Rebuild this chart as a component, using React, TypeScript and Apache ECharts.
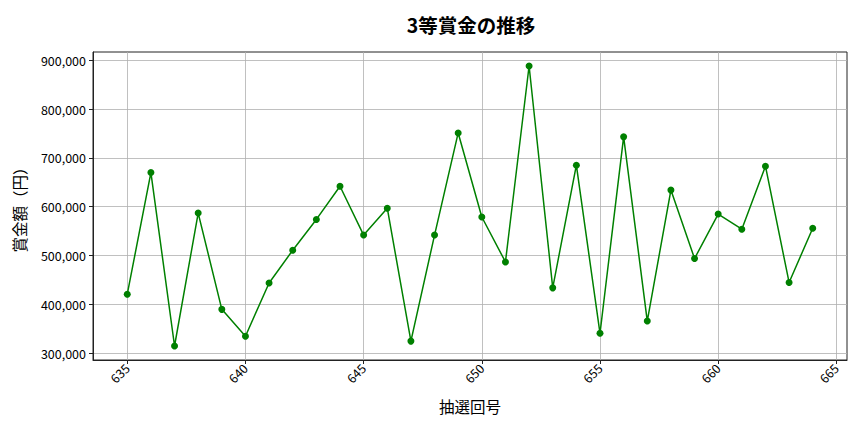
import { useEffect, useRef } from "react";
import * as echarts from "echarts";

const draws = [
  635, 636, 637, 638, 639, 640, 641, 642, 643, 644, 645, 646, 647, 648, 649,
  650, 651, 652, 653, 654, 655, 656, 657, 658, 659, 660, 661, 662, 663, 664,
];
const prizes = [
  421000, 670000, 315000, 587000, 390000, 335000, 444000, 511000, 574000,
  642000, 542000, 597000, 325000, 542000, 751000, 579000, 487000, 888000,
  434000, 685000, 341000, 743000, 366000, 634000, 494000, 585000, 554000,
  683000, 445000, 556000,
];
const xTicks = [635, 640, 645, 650, 655, 660, 665];
const yTicks = [300000, 400000, 500000, 600000, 700000, 800000, 900000];

const FONT = "'Noto Sans CJK JP', 'Noto Sans', sans-serif";

// matplotlib-style 5% padding around the data
function padded(values: number[]) {
  const lo = Math.min(...values);
  const hi = Math.max(...values);
  const pad = (hi - lo) * 0.05;
  return [lo - pad, hi + pad];
}

export default function App() {
  const ref = useRef<HTMLDivElement>(null);

  useEffect(() => {
    if (!ref.current) return;
    const chart = echarts.init(ref.current, undefined, { renderer: "svg" });
    const [xMin, xMax] = padded(draws);
    const [yMin, yMax] = padded(prizes);

    chart.setOption({
      animation: false,
      backgroundColor: "#ffffff",
      title: {
        text: "3等賞金の推移",
        left: 466,
        top: 10,
        textAlign: "center",
        textStyle: { fontFamily: FONT, fontSize: 19.5, fontWeight: "bold", color: "#000" },
      },
      grid: {
        left: 93,
        right: 17,
        top: 52,
        bottom: 72,
        show: true,
        borderColor: "#222",
        borderWidth: 1,
        backgroundColor: "transparent",
      },
      xAxis: {
        type: "value",
        min: xMin,
        max: xMax,
        name: "抽選回号",
        nameLocation: "middle",
        nameGap: 38,
        nameTextStyle: { fontFamily: FONT, fontSize: 15.5, color: "#000" },
        axisLine: { show: true, onZero: false, lineStyle: { color: "#222", width: 1 } },
        axisTick: {
          show: true,
          length: 4,
          customValues: xTicks,
          lineStyle: { color: "#222" },
        },
        axisLabel: {
          customValues: xTicks,
          rotate: 45,
          margin: 6,
          fontFamily: FONT,
          fontSize: 12.5,
          color: "#000",
        },
        splitLine: { show: true, lineStyle: { color: "#b0b0b0", width: 0.8 } },
      },
      yAxis: {
        type: "value",
        min: yMin,
        max: yMax,
        name: "賞金額（円）",
        nameLocation: "middle",
        nameGap: 66,
        nameTextStyle: { fontFamily: FONT, fontSize: 15.5, color: "#000" },
        axisLine: { show: true, onZero: false, lineStyle: { color: "#222", width: 1 } },
        axisTick: {
          show: true,
          length: 4,
          customValues: yTicks,
          lineStyle: { color: "#222" },
        },
        axisLabel: {
          customValues: yTicks,
          margin: 7,
          fontFamily: FONT,
          fontSize: 12.5,
          color: "#000",
          formatter: (v: number) => v.toLocaleString("en-US"),
        },
        splitLine: { show: true, lineStyle: { color: "#b0b0b0", width: 0.8 } },
      },
      series: [
        {
          type: "line",
          data: draws.map((d, i) => [d, prizes[i]]),
          symbol: "circle",
          symbolSize: 7,
          lineStyle: { color: "#008000", width: 1.5 },
          itemStyle: { color: "#008000" },
        },
      ],
    });

    return () => chart.dispose();
  }, []);

  return (
    <div
      ref={ref}
      style={{ position: "fixed", left: 0, top: 0, width: 864, height: 432 }}
    />
  );
}
